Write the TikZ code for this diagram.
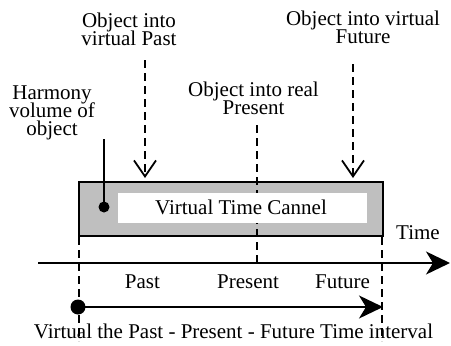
\documentclass[tikz,border=0pt]{standalone}
\usepackage{fontspec}
\setmainfont{Liberation Serif}
\usetikzlibrary{arrows.meta}
\newcommand{\lblfont}{\fontsize{21}{18}\selectfont\setlength{\lineskiplimit}{-30pt}}
\begin{document}
\begin{tikzpicture}[x=1pt,y=-1pt,
  lbl/.style={align=center,font=\lblfont,inner sep=0pt,anchor=base},
  dsh/.style={line width=1.8pt,dash pattern=on 8pt off 5pt},
  solid line/.style={line width=1.8pt},
  vee/.style={-{Straight Barb[length=16pt,width=22pt,line width=1.8pt]}},
  big/.style={-{Stealth[length=24pt,width=23pt,inset=7pt]}}]
\useasboundingbox (0,0) rectangle (451,346);
% channel
\node[draw,line width=1.8pt,fill=black!25,minimum width=304pt,minimum height=54pt,inner sep=0pt] (chan) at (231,208.7) {};
\coordinate (sa) at (257,125); \coordinate (sb) at (257,263);
\draw[dsh] (sa) -- (sb);
\node[fill=white,minimum width=249pt,minimum height=30.6pt,inner sep=0pt] (inner) at (242.3,208) {};
\node[lbl] (vtc) at (241,214) {Virtual Time Cannel};
% time axis
\coordinate (ta) at (38,263);
\coordinate (tb) at (450,263);
\draw[solid line,big] (ta) -- (tb);
\node[lbl] (time) at (418,239) {Time};
\node[lbl] (past) at (142.5,288) {Past};
\node[lbl] (pres) at (248,288) {Present};
\node[lbl] (fut) at (342.5,288) {Future};
% dashed boundaries
\coordinate (l1) at (79,237); \coordinate (l2) at (79,341);
\coordinate (r1) at (382,237); \coordinate (r2) at (382,341);
\draw[dsh] (l1) -- (l2);
\draw[dsh] (r1) -- (r2);
% interval
\node[circle,fill=black,minimum size=15pt,inner sep=0pt] (dot) at (78,307) {};
\coordinate (ie) at (383,307);
\draw[solid line,big] (dot.center) -- (ie);
\node[lbl] (bottom) at (233.5,338) {Virtual the Past - Present - Future Time interval};
% harmony
\node[lbl] (harm) at (52,135) {Harmony\\volume of\\object};
\node[circle,fill=black,minimum size=11pt,inner sep=0pt] (hdot) at (104,207) {};
\coordinate (htop) at (104,139);
\draw[solid line] (hdot.center) -- (htop);
% past arrow
\node[lbl] (opast) at (129,45) {Object into\\virtual Past};
\coordinate (pa) at (145,60); \coordinate (pb) at (145,178);
\draw[dsh,vee] (pa) -- (pb);
% future arrow
\node[lbl] (ofut) at (363,43) {Object into virtual\\Future};
\coordinate (fa) at (353,64); \coordinate (fb) at (353,178);
\draw[dsh,vee] (fa) -- (fb);
% present
\node[lbl] (opres) at (253.5,114) {Object into real\\Present};
\end{tikzpicture}
\end{document}
